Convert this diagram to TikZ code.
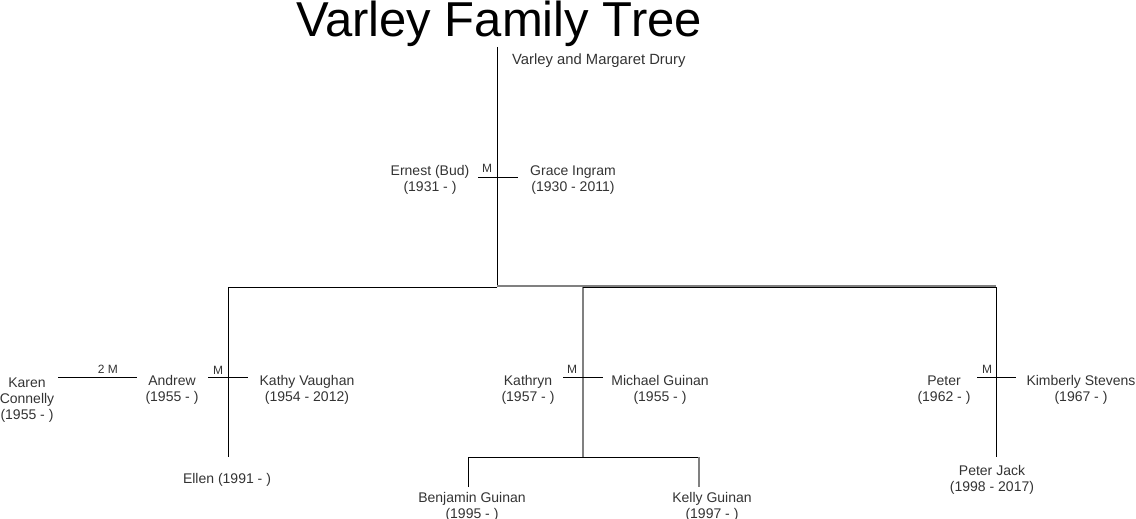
\documentclass[tikz,border=0pt]{standalone}
\usepackage{fontspec}
\setmainfont{Liberation Sans}
\definecolor{lgray}{rgb}{0.5,0.5,0.5}
\definecolor{txt}{rgb}{0.2,0.2,0.2}
\tikzset{
  person/.style={align=center, inner sep=0pt, text=txt, font=\fontsize{14}{16}\selectfont},
  mlabel/.style={inner sep=0pt, text=txt, font=\fontsize{12}{14}\selectfont},
  kin/.style={draw=black, line width=1pt},
  kingray/.style={draw=lgray, line width=2pt},
}

\begin{document}
\begin{tikzpicture}[x=1pt, y=-1pt]
\useasboundingbox (0,0) rectangle (1136,519);
\node[anchor=base, inner sep=0pt, font=\fontsize{49}{49}\selectfont] (title) at (499,37) {Varley Family Tree};
\node[person, anchor=west, font=\fontsize{14.8}{16}\selectfont] (drury) at (512,61) {Varley and Margaret Drury};
\node[person] (ernest) at (430,180) {Ernest (Bud)\\(1931 - )};
\node[person] (grace) at (573,180) {Grace Ingram\\(1930 - 2011)};
\node[person] (karen) at (27,400) {Karen\\Connelly\\(1955 - )};
\node[person] (andrew) at (172,390) {Andrew\\(1955 - )};
\node[person] (kathy) at (307,390) {Kathy Vaughan\\(1954 - 2012)};
\node[person] (ellen) at (227,480) {Ellen (1991 - )};
\node[person] (kathryn) at (528,390) {Kathryn\\(1957 - )};
\node[person] (michael) at (660,390) {Michael Guinan\\(1955 - )};
\node[person] (benjamin) at (472,507) {Benjamin Guinan\\(1995 - )};
\node[person] (kelly) at (712,507) {Kelly Guinan\\(1997 - )};
\node[person] (peter) at (944,390) {Peter\\(1962 - )};
\node[person] (kimberly) at (1081,390) {Kimberly Stevens\\(1967 - )};
\node[person] (peterjack) at (992,480) {Peter Jack\\(1998 - 2017)};

\coordinate (top) at (497,47);
\coordinate (mEG) at (497,177);
\coordinate (trunk) at (497,287);
\coordinate (mAK) at (228,377);
\coordinate (aEnd) at (228,457);
\coordinate (kTop) at (583,287);
\coordinate (mKM) at (583,377);
\coordinate (kEnd) at (583,457);
\coordinate (pTop) at (996,287);
\coordinate (mPK) at (996,377);
\coordinate (pEnd) at (996,457);
\coordinate (benTop) at (468,487);
\coordinate (kelTop) at (699,487);

\draw[kin] (top) -- (trunk);
\draw[kin] ([xshift=-19pt]mEG) -- ([xshift=21pt]mEG);
\node[mlabel] (mEGl) at (487,168) {M};

\draw[kin] (trunk) -| (aEnd);
\draw[kin] ([xshift=-20pt]mAK) -- ([xshift=20pt]mAK);
\node[mlabel] (mAKl) at (218,370) {M};
\draw[kin] (58,377) coordinate (kcL) -- (137,377) coordinate (kcR);
\node[mlabel] (mKAl) at (108,369) {2 M};

\draw[kingray] ([yshift=1pt]trunk) -- ([yshift=1pt]pTop);
\draw[kingray] (kTop) -- (kEnd);
\draw[kin] (kTop) -- (pTop) -- (pEnd);
\draw[kin] ([xshift=-20pt]mKM) -- ([xshift=20pt]mKM);
\node[mlabel] (mKMl) at (572,369) {M};
\draw[kin] ([xshift=-19pt]mPK) -- ([xshift=20pt]mPK);
\node[mlabel] (mPKl) at (987,369) {M};

\draw[kin] (benTop) |- (kelTop |- kEnd);
\draw[kingray] (kelTop |- kEnd) -- (kelTop);
\end{tikzpicture}
\end{document}
